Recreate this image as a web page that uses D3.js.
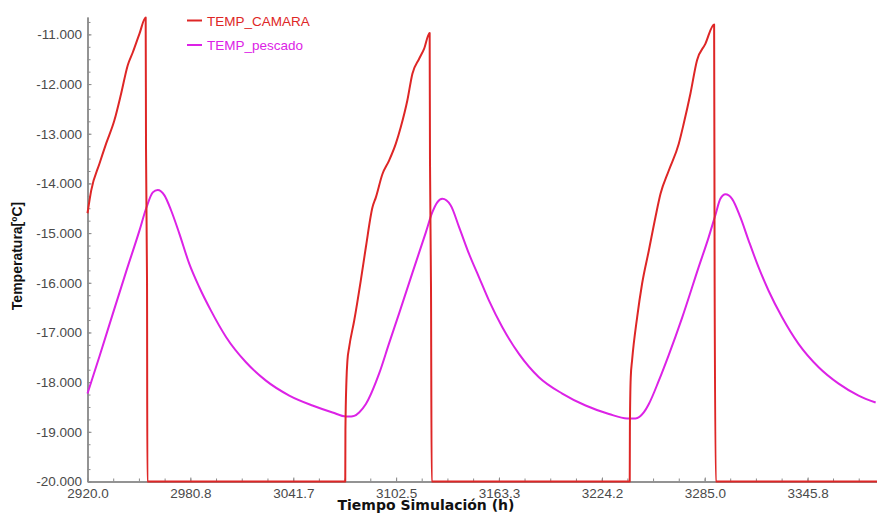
<!DOCTYPE html>
<html>
<head>
<meta charset="utf-8">
<script src="https://cdn.jsdelivr.net/npm/d3@7"></script>
<style>
  html, body { margin: 0; padding: 0; background: #ffffff; }
  svg { display: block; font-family: "Liberation Sans", Arial, Helvetica, sans-serif; }
</style>
</head>
<body>
<svg id="chart" width="877" height="513"></svg>
<script>
// Chamber temperature (TEMP_CAMARA) over simulation time, hours
const camaraHours = [
  2920.0, 2922.2, 2927.1, 2931.0, 2935.9, 2939.9, 2943.8, 2946.8, 2950.7, 2954.4,
  2954.6, 2955.2, 2955.4,
  3072.4, 3072.5, 3073.1, 3073.7, 3074.7, 3077.7, 3081.6, 3084.6, 3088.5, 3090.5, 3094.4,
  3098.3, 3102.3, 3105.2, 3109.1, 3112.1, 3116.1, 3119.0, 3122.3,
  3122.5, 3123.1, 3123.5,
  3240.6, 3240.7, 3241.2, 3242.0, 3245.0, 3247.9, 3251.9, 3255.8, 3258.8, 3263.7, 3269.6,
  3272.5, 3276.5, 3280.4, 3285.3, 3290.5,
  3290.8, 3291.5, 3386.8
];
const camaraTemp = [
  -14.60, -14.14, -13.60, -13.20, -12.73, -12.19, -11.62, -11.36, -10.99, -10.66,
  -13.30, -16.00, -20.00,
  -20.00, -18.97, -17.97, -17.56, -17.30, -16.76, -15.95, -15.28, -14.48, -14.28, -13.81,
  -13.54, -13.20, -12.87, -12.33, -11.79, -11.49, -11.29, -10.97,
  -13.54, -16.09, -20.00,
  -20.00, -18.90, -17.90, -17.56, -16.69, -16.02, -15.35, -14.68, -14.21, -13.74, -13.20,
  -12.80, -12.19, -11.52, -11.19, -10.80,
  -16.00, -20.00, -20.00
];

// Fish temperature (TEMP_pescado)
const pescadoHours = [
  2920.0, 2927.1, 2934.9, 2942.8, 2950.7, 2954.7, 2958.6, 2961.5,
  2965.5, 2969.4, 2974.3, 2980.2, 2986.1, 2993.0, 3001.9, 3013.7, 3025.5, 3039.3,
  3053.0, 3064.9, 3072.8, 3075.9, 3077.7, 3080.6, 3084.6, 3092.4, 3098.3, 3104.2,
  3112.1, 3120.0, 3123.9, 3126.8, 3129.8,
  3134.7, 3139.7, 3145.6, 3151.5, 3157.4, 3165.2, 3175.1, 3186.9, 3200.7, 3214.5,
  3228.3, 3239.1, 3244.0, 3248.9, 3251.9, 3257.8, 3263.7, 3271.6, 3281.4, 3287.3,
  3291.3, 3294.2, 3297.2,
  3301.1, 3306.0, 3310.9, 3316.8, 3322.7, 3330.6, 3340.4, 3352.3, 3364.1, 3375.9, 3386.0
];
const pescadoTemp = [
  -18.23, -17.48, -16.63, -15.78, -14.95, -14.50, -14.18, -14.13,
  -14.24, -14.54, -15.01, -15.62, -16.09, -16.56, -17.09, -17.60, -17.97, -18.27,
  -18.47, -18.61, -18.69, -18.69, -18.68, -18.61, -18.44, -17.83, -17.22, -16.62,
  -15.80, -14.99, -14.58, -14.38, -14.31,
  -14.44, -14.88, -15.42, -15.89, -16.36, -16.89, -17.43, -17.90, -18.23, -18.47,
  -18.64, -18.73, -18.73, -18.61, -18.44, -17.97, -17.45, -16.70, -15.68, -15.08,
  -14.63, -14.31, -14.22,
  -14.31, -14.68, -15.15, -15.69, -16.16, -16.69, -17.23, -17.70, -18.03, -18.27, -18.41
];

const xTicks = [2920.0, 2980.8, 3041.7, 3102.5, 3163.3, 3224.2, 3285.0, 3345.8];
const yTicks = [-20, -19, -18, -17, -16, -15, -14, -13, -12, -11];
const seriesNames = ["TEMP_CAMARA", "TEMP_pescado"];
const seriesColors = ["#de2626", "#dc22e6"];

const svg = d3.select("#chart");
const x = d3.scaleLinear().domain([2920, 3386.8]).range([87.5, 877]);
const y = d3.scaleLinear().domain([-20, -10.65]).range([481.5, 17]);

const axisColor = "#8c8c8c";
const labelColor = "#4a4a4a";

// minor ticks: quarter steps between labelled ticks
const xStep = (xTicks[1] - xTicks[0]) / 4;
const xMinor = d3.range(0, 40).map(i => 2920 + i * xStep).filter(v => v <= 3386.8);
const yMinor = d3.range(0, 40).map(i => -20 + i * 0.25).filter(v => v <= -10.65);

const gx = svg.append("g").attr("transform", `translate(0,${y(-20)})`);
gx.call(d3.axisBottom(x).tickValues(xMinor).tickSizeInner(-3).tickSizeOuter(0).tickFormat(""));
gx.append("g").call(
  d3.axisBottom(x).tickValues(xTicks).tickSizeInner(-4).tickSizeOuter(0)
    .tickPadding(6.5).tickFormat(d => d.toFixed(1))
);

const gy = svg.append("g").attr("transform", `translate(${x(2920)},0)`);
gy.call(d3.axisLeft(y).tickValues(yMinor).tickSizeInner(-3).tickSizeOuter(0).tickFormat(""));
gy.append("g").call(
  d3.axisLeft(y).tickValues(yTicks).tickSizeInner(-4).tickSizeOuter(0)
    .tickPadding(5.5).tickFormat(d => "-" + Math.abs(d).toFixed(3))
);

svg.selectAll(".domain").attr("stroke", axisColor).attr("stroke-width", 1.5);
svg.selectAll(".tick line").attr("stroke", axisColor).attr("stroke-width", 1);
svg.selectAll(".tick text")
  .attr("fill", labelColor)
  .style("font-family", '"Liberation Sans", Arial, sans-serif')
  .style("font-size", "13.5px");

// series lines
const camara = camaraHours.map((h, i) => [h, camaraTemp[i]]);
const pescado = pescadoHours.map((h, i) => [h, pescadoTemp[i]]);

const lineSmooth = d3.line().x(d => x(d[0])).y(d => y(d[1])).curve(d3.curveMonotoneX);

svg.append("path")
  .datum(pescado)
  .attr("fill", "none")
  .attr("stroke", seriesColors[1])
  .attr("stroke-width", 2)
  .attr("stroke-linejoin", "round")
  .attr("d", lineSmooth);

svg.append("path")
  .datum(camara)
  .attr("fill", "none")
  .attr("stroke", seriesColors[0])
  .attr("stroke-width", 2)
  .attr("stroke-linejoin", "round")
  .attr("d", lineSmooth);

// legend
const legend = svg.append("g");
seriesNames.forEach((name, i) => {
  const ly = 20.5 + i * 24.5;
  legend.append("line")
    .attr("x1", 187).attr("x2", 202).attr("y1", ly).attr("y2", ly)
    .attr("stroke", seriesColors[i]).attr("stroke-width", 2);
  legend.append("text")
    .attr("x", 207).attr("y", ly + 5)
    .attr("fill", seriesColors[i])
    .style("font-size", "13.5px")
    .text(name);
});

// axis titles
svg.append("text")
  .attr("x", 426).attr("y", 510)
  .attr("text-anchor", "middle")
  .attr("fill", "#111")
  .style("font-family", '"DejaVu Sans", Verdana, sans-serif')
  .style("font-weight", "bold")
  .style("font-size", "14px")
  .text("Tiempo Simulación (h)");

svg.append("text")
  .attr("transform", "translate(22,256) rotate(-90)")
  .attr("text-anchor", "middle")
  .attr("fill", "#111")
  .style("font-weight", "bold")
  .style("font-size", "14px")
  .text("Temperatura[ºC]");
</script>
</body>
</html>
